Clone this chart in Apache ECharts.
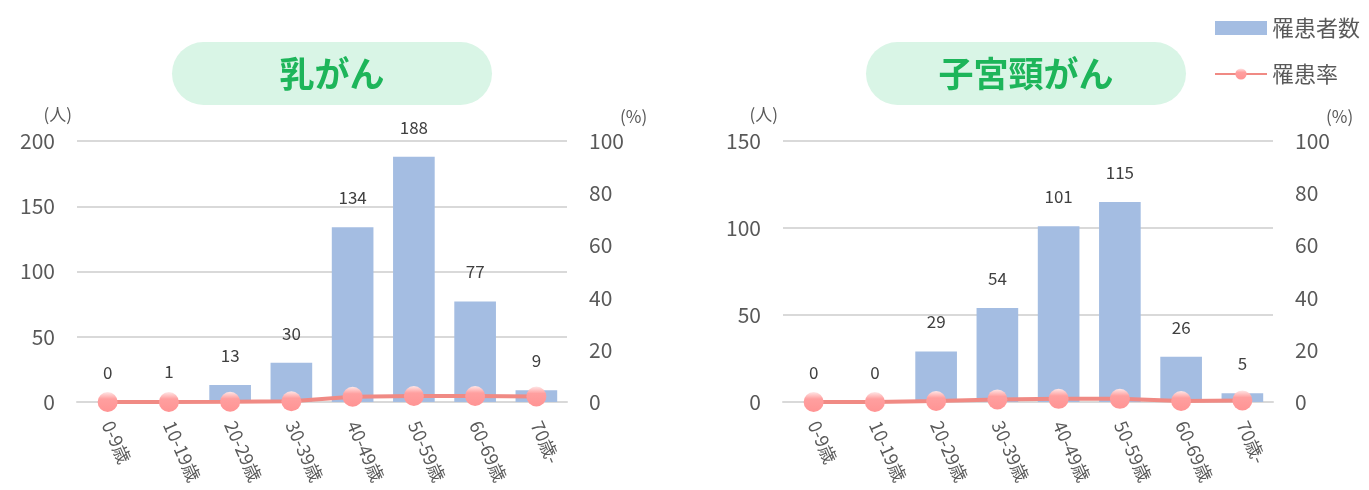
<!DOCTYPE html>
<html>
<head>
<meta charset="utf-8">
<script src="https://cdn.jsdelivr.net/npm/echarts@6/dist/echarts.min.js"></script>
<style>
  html, body { margin: 0; padding: 0; background: #fff; }
  #main { width: 1369px; height: 490px; }
</style>
</head>
<body>
<div id="main"></div>
<script>
// 年齢階級
var categories = ['0-9歳', '10-19歳', '20-29歳', '30-39歳', '40-49歳', '50-59歳', '60-69歳', '70歳-'];
// 乳がん
var breastCounts = [0, 1, 13, 30, 134, 188, 77, 9];
var breastRates = [0, 0, 0.1, 0.3, 2.0, 2.3, 2.3, 2.1];
// 子宮頸がん
var cervixCounts = [0, 0, 29, 54, 101, 115, 26, 5];
var cervixRates = [0, 0, 0.4, 1.0, 1.2, 1.2, 0.4, 0.6];

var FONT = '"Noto Sans CJK JP", sans-serif';
var labelColor = '#595959';

function makeYAxes(gridIndex, max, interval) {
	return [{
		type: 'value',
		gridIndex: gridIndex,
		min: 0,
		max: max,
		interval: interval,
		name: '(人)',
		nameLocation: 'end',
		nameGap: 18,
		nameTextStyle: { color: labelColor, fontSize: 17, fontFamily: FONT, align: 'right', padding: [0, 5, 0, 0] },
		axisLine: { show: false },
		axisTick: { show: false },
		axisLabel: { color: labelColor, fontSize: 21, fontFamily: FONT, margin: 22 },
		splitLine: { lineStyle: { color: '#d9d9d9', width: 2 } }
	}, {
		type: 'value',
		gridIndex: gridIndex,
		min: 0,
		max: 100,
		interval: 20,
		name: '(%)',
		nameLocation: 'end',
		nameGap: 16,
		nameTextStyle: { color: labelColor, fontSize: 17, fontFamily: FONT, align: 'left', padding: [0, 0, 0, 53] },
		axisLine: { show: false },
		axisTick: { show: false },
		axisLabel: { color: labelColor, fontSize: 21, fontFamily: FONT, margin: 22 },
		splitLine: { show: false }
	}];
}

function makeXAxis(gridIndex) {
	return {
		type: 'category',
		gridIndex: gridIndex,
		data: categories,
		axisTick: { show: false },
		axisLine: { lineStyle: { color: '#d9d9d9', width: 2 } },
		axisLabel: { color: labelColor, fontSize: 18, fontFamily: FONT, rotate: -66, margin: 20, interval: 0 }
	};
}

function barSeries(data, xi, yi) {
	return {
		name: '罹患者数',
		type: 'bar',
		xAxisIndex: xi,
		yAxisIndex: yi,
		data: data,
		barWidth: '68%',
		itemStyle: { color: '#a4bde2' },
		label: { show: true, position: 'top', distance: 21, color: '#404040', fontSize: 17, fontFamily: FONT }
	};
}

var markerColor = new echarts.graphic.LinearGradient(0, 0, 0, 1, [
	{ offset: 0, color: '#ffe6e6' },
	{ offset: 0.35, color: '#ff9f9f' },
	{ offset: 1, color: '#ff9494' }
]);

function lineSeries(data, xi, yi) {
	return {
		name: '罹患率',
		type: 'line',
		xAxisIndex: xi,
		yAxisIndex: yi,
		data: data,
		z: 5,
		symbol: 'circle',
		symbolSize: 20,
		lineStyle: { color: '#f08a84', width: 4 },
		itemStyle: { color: markerColor, borderWidth: 0 }
	};
}

function pill(x, text) {
	return {
		type: 'group',
		left: x,
		top: 42,
		children: [{
			type: 'rect',
			shape: { x: 0, y: 0, width: 320, height: 63, r: 31.5 },
			style: { fill: '#d9f5e6' }
		}, {
			type: 'text',
			x: 160,
			y: 32,
			style: {
				text: text,
				fill: '#1db55a',
				font: 'bold 35px "Noto Sans CJK JP", sans-serif',
				align: 'center',
				verticalAlign: 'middle'
			}
		}]
	};
}

var myChart = echarts.init(document.getElementById('main'));
var option = {
	animation: false,
	backgroundColor: '#fff',
	legend: {
		orient: 'vertical',
		right: 4,
		top: 12,
		itemGap: 24,
		itemWidth: 52,
		itemHeight: 14,
		textStyle: { color: labelColor, fontSize: 22, fontFamily: FONT },
		data: [{ name: '罹患者数', icon: 'rect' }, { name: '罹患率' }]
	},
	graphic: [pill(172, '乳がん'), pill(866, '子宮頸がん')],
	grid: [
		{ left: 77, top: 141, width: 490, height: 261 },
		{ left: 783, top: 141, width: 490, height: 261 }
	],
	xAxis: [makeXAxis(0), makeXAxis(1)],
	yAxis: makeYAxes(0, 200, 50).concat(makeYAxes(1, 150, 50)),
	series: [
		barSeries(breastCounts, 0, 0),
		lineSeries(breastRates, 0, 1),
		barSeries(cervixCounts, 1, 2),
		lineSeries(cervixRates, 1, 3)
	]
};
myChart.setOption(option);
</script>
</body>
</html>
